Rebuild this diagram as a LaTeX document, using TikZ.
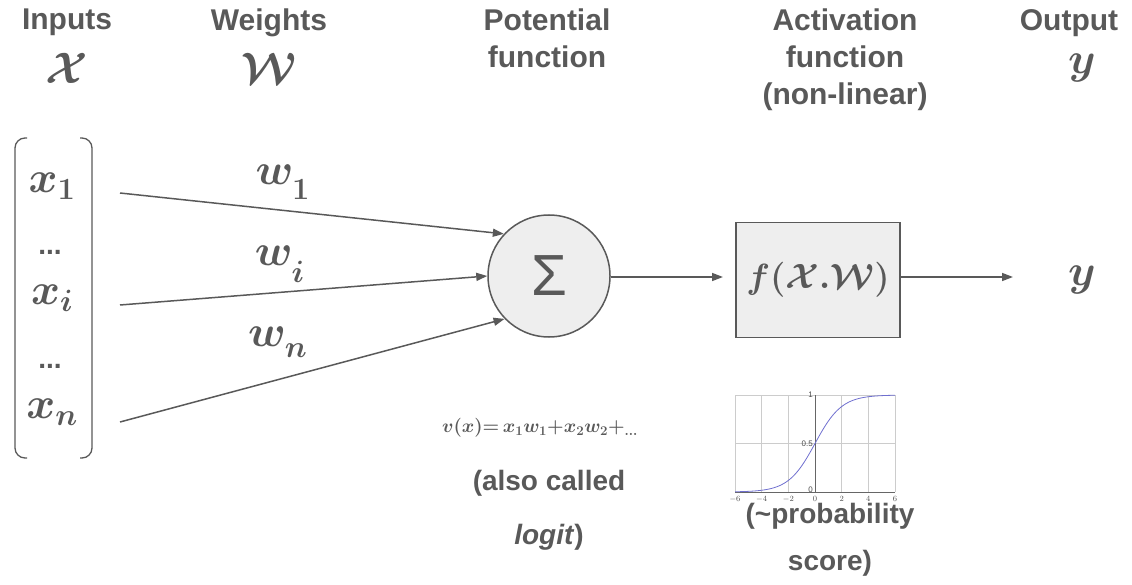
\documentclass[tikz,border=0pt]{standalone}
\usepackage{fix-cm}
\usepackage{fontspec}
\setmainfont{Liberation Sans}
\usetikzlibrary{arrows.meta}
\definecolor{ink}{HTML}{595959}
\definecolor{fillg}{HTML}{EEEEEE}
\definecolor{gridc}{HTML}{CCCCCC}
\definecolor{curvec}{HTML}{6F6FCF}
\begin{document}
\begin{tikzpicture}[x=1pt,y=-1pt,
  every node/.style={text=ink},
  head/.style={font=\fontsize{30}{37}\selectfont\bfseries, align=center, inner sep=0pt, anchor=north},
  note/.style={font=\fontsize{28}{54}\selectfont\bfseries, align=center, inner sep=0pt},
  bigm/.style={font=\fontsize{44}{50}\selectfont\boldmath, inner sep=0pt},
  wl/.style={font=\fontsize{44}{50}\selectfont\boldmath, inner sep=0pt},
  conn/.style={draw=ink, line width=1.5pt, -{Triangle[length=11pt,width=8pt]}},
  tick/.style={font=\fontsize{8}{9}\selectfont, inner sep=0pt, text=black!70}
]
\useasboundingbox (0,0) rectangle (1132,585);

% headers
\node[head] (hin) at (67,9) {Inputs};
\node[bigm] (hX) at (67,68) {$\mathcal{X}$};
\node[head] (hw) at (269,9) {Weights};
\node[bigm] (hW) at (269,68) {$\mathcal{W}$};
\node[head] (hpot) at (547,9) {Potential\\function};
\node[head] (hact) at (845,9) {Activation\\function\\(non-linear)};
\node[head] (hout) at (1069,9) {Output};
\node[bigm] (hy) at (1082,68) {$y$};

% input vector
\draw[ink, line width=1.3pt, rounded corners=10pt] (27,138) -- (15,138) -- (15,458) -- (27,458);
\draw[ink, line width=1.3pt, rounded corners=10pt] (80,138) -- (92,138) -- (92,458) -- (80,458);
\node[bigm] (x1) at (52,186) {$x_{1}$};
\node[font=\fontsize{28}{30}\selectfont\bfseries, inner sep=0pt] (d1) at (50,252) {...};
\node[bigm] (xi) at (52,298) {$x_{i}$};
\node[font=\fontsize{28}{30}\selectfont\bfseries, inner sep=0pt] (d2) at (50,366) {...};
\node[bigm] (xn) at (52,412) {$x_{n}$};

\coordinate (s1) at (120,193);
\coordinate (s2) at (120,305);
\coordinate (s3) at (120,422);

% sum node
\node[circle, draw=ink, fill=fillg, line width=1.5pt, minimum size=122pt, inner sep=0pt,
      font=\fontsize{58}{58}\selectfont] (sum) at (549,276) {Σ};

% activation box
\node[draw=ink, fill=fillg, line width=1.5pt, minimum width=164pt, minimum height=115pt,
      inner sep=0pt, font=\fontsize{35}{40}\selectfont\boldmath] (act) at (818,280) {$f(\mathcal{X}.\mathcal{W})$};

\node[bigm] (out) at (1082,280) {$y$};
\coordinate (outend) at (1013,277);
\coordinate (actin) at (723,277);

% connectors
\draw[conn] (s1) -- (sum.137);
\draw[conn] (s2) -- (sum.180);
\draw[conn] (s3) -- (sum.224);
\draw[conn] (sum.east |- actin) -- (actin);
\draw[conn] (act.east |- outend) -- (outend);

% weight labels
\node[wl] (w1) at (283,182) {$w_{{}_{\scriptstyle 1}}$};
\node[wl] (wi) at (280,264) {$w_{{}_{\scriptstyle i}}$};
\node[wl] (wn) at (278,342) {$w_{{}_{\scriptstyle n}}$};

% formula
\node[inner sep=0pt, font=\fontsize{19}{22}\selectfont\boldmath] (form) at (540,428)
  {$v(x){=}\,x_1w_1{+}x_2w_2{+}_{\ldots}$};
\node[note, anchor=center] (logit) at (549,510) {(also called\\\textit{logit})};

% sigmoid plot
\begin{scope}
  \foreach \t in {-6,-4,-2,2,4,6} \draw[gridc, line width=0.6pt] ({815+13.333*\t},395) -- ({815+13.333*\t},492);
  \foreach \v in {0,0.5,1} \draw[gridc, line width=0.6pt] (735,{492-97*\v}) -- (895,{492-97*\v});
  \draw[black!60, line width=0.8pt] (815,395) -- (815,492);
  \draw[black!60, line width=0.8pt] (735,492) -- (895,492);
  \draw[curvec, line width=0.8pt, domain=-6:6, samples=80, smooth] plot ({815+13.333*\x},{492-97/(1+exp(-\x))});
  \foreach \t in {-6,-4,-2,0,2,4,6} \node[tick] at ({815+13.333*\t},499) {$\t$};
  \node[tick, anchor=east] at (813,395) {1};
  \node[tick, anchor=east] at (813,443.5) {0.5};
  \node[tick, anchor=east] at (813,490) {0};
\end{scope}
\node[note, font=\fontsize{28}{47}\selectfont\bfseries, anchor=center] (prob) at (830,540) {(\textasciitilde probability\\score)};
\end{tikzpicture}
\end{document}
